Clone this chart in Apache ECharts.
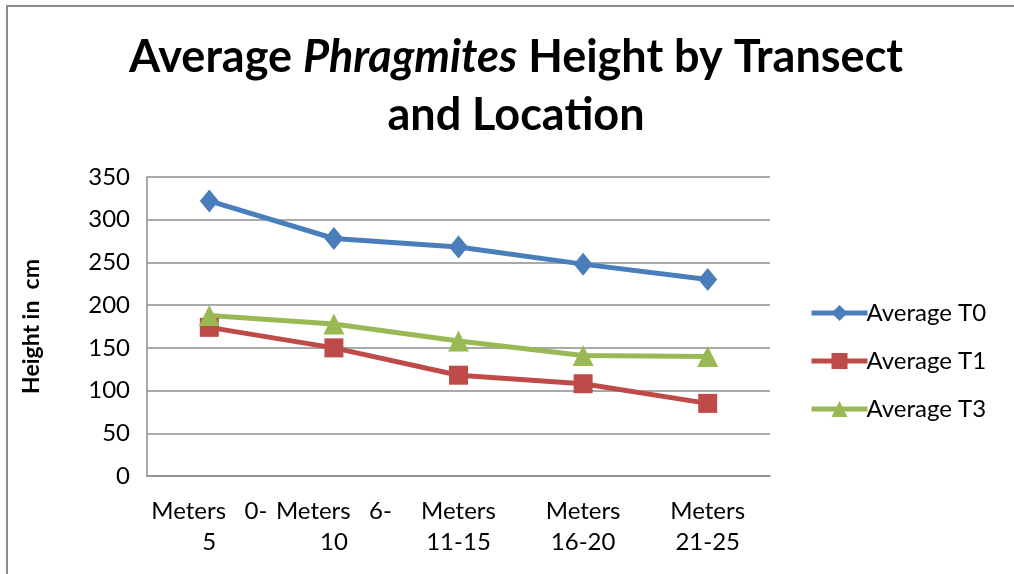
<!DOCTYPE html>
<html>
<head>
<meta charset="utf-8">
<script src="https://cdn.jsdelivr.net/npm/echarts@6/dist/echarts.min.js"></script>
<style>
html,body{margin:0;padding:0;background:#fff;}
#chart{width:1014px;height:574px;}
</style>
</head>
<body>
<div id="chart"></div>
<script>
const categories = ["Meters 0-5", "Meters 6-10", "Meters 11-15", "Meters 16-20", "Meters 21-25"];
const averageT0 = [322, 278, 268, 248, 230];
const averageT1 = [174, 150, 118, 108, 85];
const averageT3 = [188, 178, 158, 141, 140];
const seriesNames = ["Average T0", "Average T1", "Average T3"];
const yTicks = [0, 50, 100, 150, 200, 250, 300, 350];

const FONT = "Lato, 'Open Sans', sans-serif";
const chart = echarts.init(document.getElementById('chart'));

function xLabel(v, i) {
  const parts = v.split(' ');
  const rng = parts[1];
  if (i < 2) {
    const d = rng.indexOf('-');
    return parts[0] + '   ' + rng.slice(0, d + 1) + '\n' + rng.slice(d + 1);
  }
  return parts[0] + '\n' + rng;
}

const colors = ['#4A7EBB', '#BE4B48', '#98B954'];
const symbols = ['diamond', 'rect', 'triangle'];
const sizes = [[19, 23], 19, 21];
const dataSets = [averageT0, averageT1, averageT3];

chart.setOption({
  backgroundColor: '#fff',
  animation: false,
  title: {
    left: 511,
    top: 23,
    textAlign: 'center',
    text: '{b|Average }{i|Phragmites}{b| Height by Transect}\n{b|and Location}',
    textStyle: {
      rich: {
        b: { fontFamily: FONT, fontWeight: 'bold', fontSize: 45, color: '#000', lineHeight: 58 },
        i: { fontFamily: FONT, fontWeight: 'bold', fontStyle: 'italic', fontSize: 45, color: '#000', lineHeight: 58 }
      }
    }
  },
  graphic: [{
    type: 'rect',
    shape: { x: 7, y: 6, width: 1020, height: 600 },
    style: { fill: 'none', stroke: '#8c8c8c', lineWidth: 2 },
    silent: true
  }],
  grid: { left: 147, right: 244, top: 177, bottom: 98, containLabel: false },
  legend: {
    orient: 'vertical',
    left: 804,
    top: 296,
    itemWidth: 56,
    itemHeight: 20,
    itemGap: 24,
    textStyle: { fontFamily: FONT, fontSize: 24, color: '#000', padding: [0, 0, 0, -6] },
    data: seriesNames.map((n, k) => ({ name: n, lineStyle: { width: 5, color: colors[k] } }))
  },
  xAxis: {
    type: 'category',
    data: categories,
    boundaryGap: true,
    axisLine: { lineStyle: { color: '#8c8c8c', width: 1.5 } },
    axisTick: { show: false },
    axisLabel: {
      interval: 0,
      fontFamily: FONT, fontSize: 24, color: '#000', lineHeight: 31, margin: 20,
      formatter: xLabel
    }
  },
  yAxis: {
    type: 'value',
    min: yTicks[0],
    max: yTicks[yTicks.length - 1],
    interval: 50,
    name: 'Height in  cm',
    nameLocation: 'middle',
    nameGap: 104,
    nameTextStyle: { fontFamily: FONT, fontWeight: 'bold', fontSize: 23, color: '#000' },
    axisLine: { show: true, lineStyle: { color: '#8c8c8c', width: 1.5 } },
    axisTick: { show: false },
    splitLine: { lineStyle: { color: '#8c8c8c', width: 1.5 } },
    axisLabel: { fontFamily: FONT, fontSize: 24, color: '#000', margin: 17 }
  },
  series: seriesNames.map((n, k) => ({
    name: n,
    type: 'line',
    data: dataSets[k],
    symbol: symbols[k],
    symbolSize: sizes[k],
    showAllSymbol: true,
    lineStyle: { color: colors[k], width: 5 },
    itemStyle: { color: colors[k], borderWidth: 0 }
  }))
});
</script>
</body>
</html>
